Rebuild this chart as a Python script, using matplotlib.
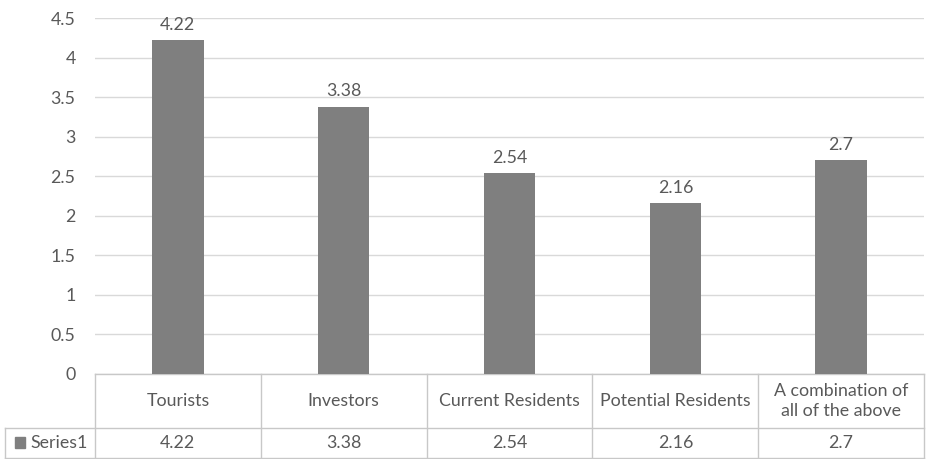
import matplotlib.pyplot as plt
from matplotlib.lines import Line2D
from matplotlib.patches import Rectangle

categories = ["Tourists", "Investors", "Current Residents", "Potential Residents",
              "A combination of\nall of the above"]
values = [4.22, 3.38, 2.54, 2.16, 2.7]
value_labels = ["4.22", "3.38", "2.54", "2.16", "2.7"]
series_name = "Series1"
yticks = [0, 0.5, 1, 1.5, 2, 2.5, 3, 3.5, 4, 4.5]

plt.rcParams['font.family'] = ['Lato', 'DejaVu Sans']
txt = "#595959"
grid = "#d9d9d9"
bar_col = "#7f7f7f"
fs = 12.8

fig = plt.figure(figsize=(9.28, 4.59), dpi=100)
W, H = 928, 459
x0, x1 = 95, 924
y0, y1 = 374, 18
ax = fig.add_axes([x0 / W, 1 - y0 / H, (x1 - x0) / W, (y0 - y1) / H])

xs = [i + 0.5 for i in range(len(values))]
ax.bar(xs, values, width=0.31, color=bar_col, zorder=3)
for x, v, lab in zip(xs, values, value_labels):
    ax.text(x, v + 0.09, lab, ha="center", va="bottom", fontsize=fs, color=txt)

ax.set_xlim(0, len(values))
ax.set_ylim(0, 4.5)
ax.set_yticks(yticks)
ax.set_yticklabels([f"{t:g}" for t in yticks])
ax.tick_params(axis="y", length=0, pad=14, labelsize=fs, labelcolor=txt)
ax.set_xticks([])
ax.yaxis.grid(True, color=grid, linewidth=1, zorder=0)
for s in ax.spines.values():
    s.set_visible(False)

# data table underneath the bars
px = (x1 - x0) / len(values)
left = (5 - x0) / px
r1 = (y0 - 428) / (y0 - y1)
r2 = (y0 - 458) / (y0 - y1)
tc = "#c8c8c8"
kwa = dict(color=tc, linewidth=1, clip_on=False)
trans = ax.get_xaxis_transform()
lines = [
    ([0, len(values)], [0, 0]),
    ([left, len(values)], [r1, r1]),
    ([left, len(values)], [r2, r2]),
    ([left, left], [r1, r2]),
]
for i in range(len(values) + 1):
    lines.append(([i, i], [0, r2]))
for xx, yy in lines:
    ax.add_line(Line2D(xx, yy, transform=trans, **kwa))

for x, c, lab in zip(xs, categories, value_labels):
    ax.text(x, r1 / 2, c, transform=trans, ha="center", va="center",
            fontsize=fs, color=txt, linespacing=1.35)
    ax.text(x, (r1 + r2) / 2, lab, transform=trans, ha="center", va="center",
            fontsize=fs, color=txt)

ax.add_patch(Rectangle(((15 - x0) / px, (r1 + r2) / 2 - 0.014), 10 / px, 0.03,
                       transform=trans, color=bar_col, clip_on=False))
ax.text((30 - x0) / px, (r1 + r2) / 2, series_name, transform=trans, ha="left",
        va="center", fontsize=fs, color=txt)

fig.savefig("out.png", dpi=100)
